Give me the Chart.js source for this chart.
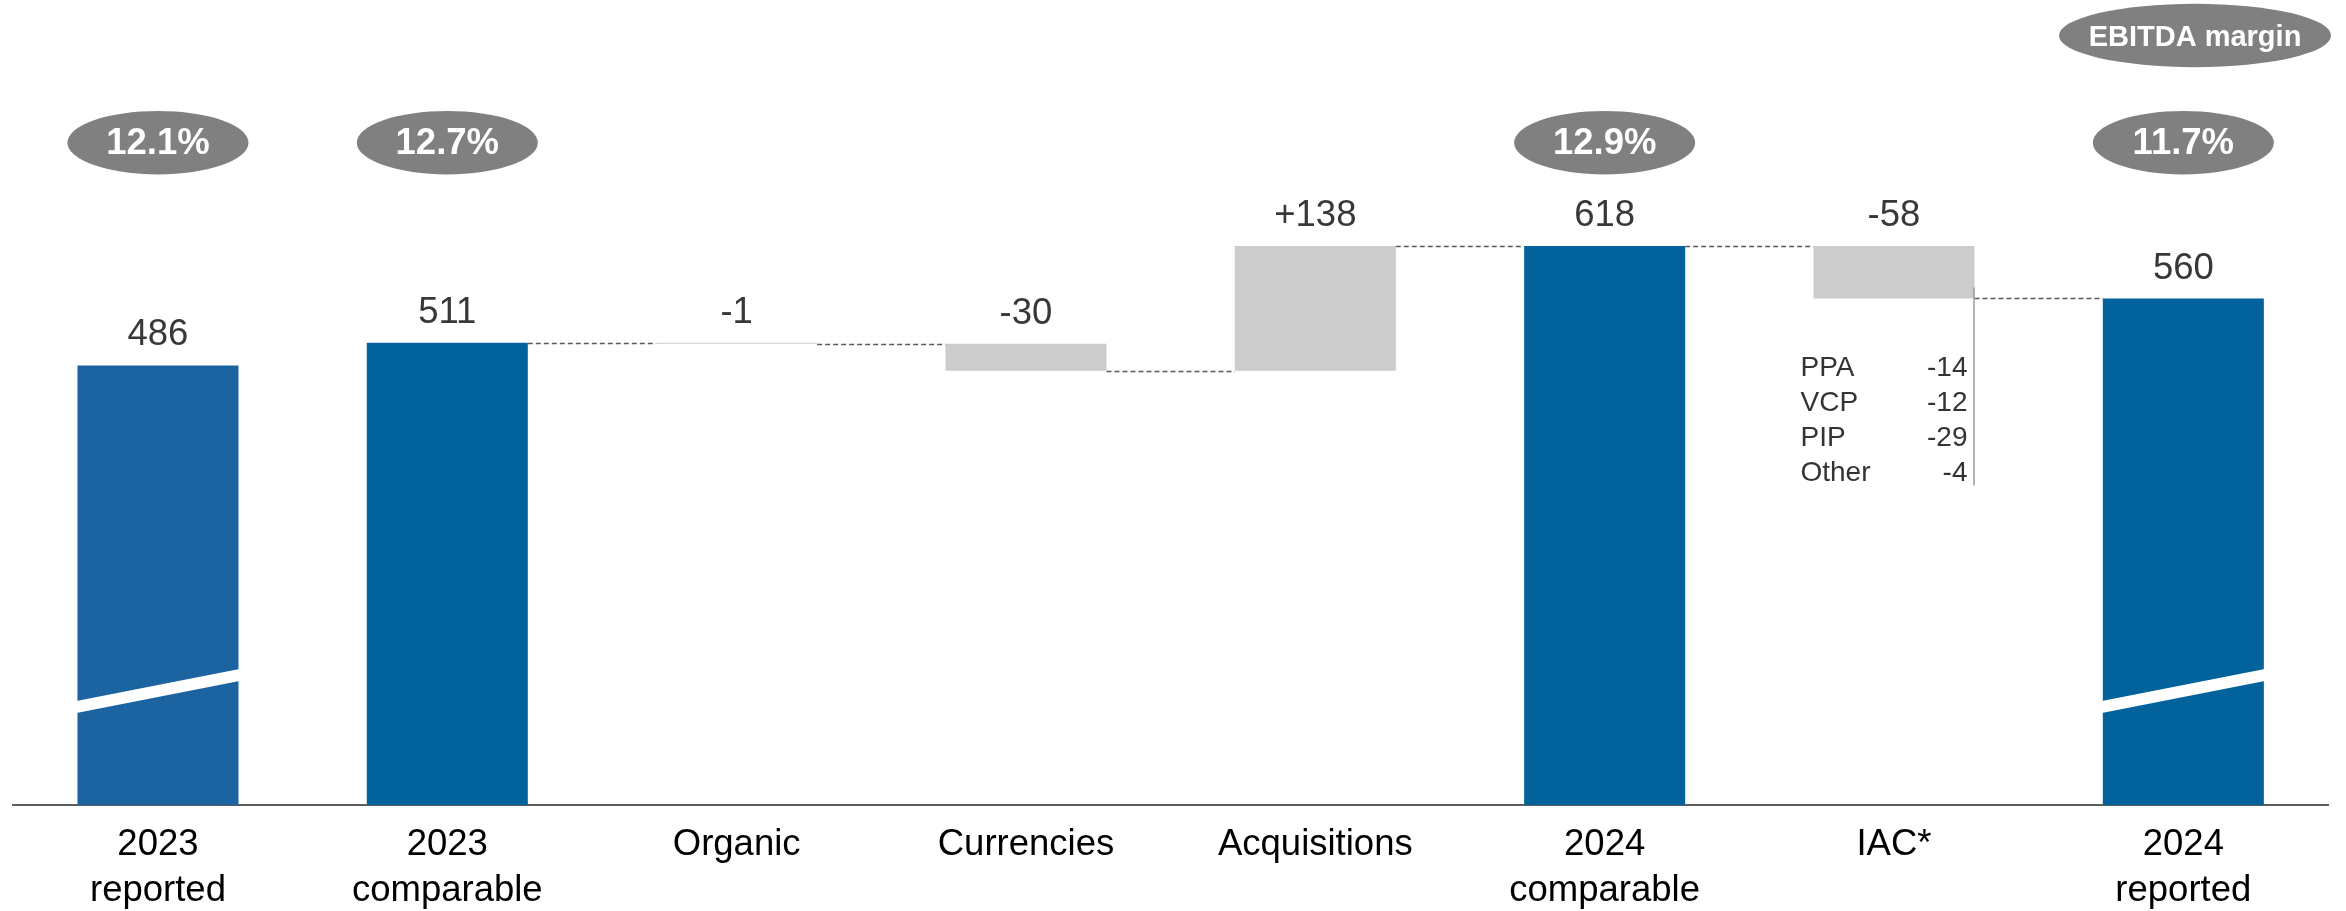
<!DOCTYPE html>
<html>
<head>
<meta charset="utf-8">
<script src="https://cdn.jsdelivr.net/npm/chart.js@4.4.1/dist/chart.umd.min.js"></script>
<style>
  html, body { margin: 0; padding: 0; background: #ffffff; }
  #wrap { width: 2346px; height: 911px; }
</style>
</head>
<body>
<div id="wrap"><canvas id="c" width="2346" height="911"></canvas></div>
<script>
// ---- data ----
const categories = [['2023', 'reported'], ['2023', 'comparable'], 'Organic', 'Currencies', 'Acquisitions', ['2024', 'comparable'], 'IAC*', ['2024', 'reported']];
const amounts = [486, 511, -1, -30, 138, 618, -58, 560];
const isTotal = [true, true, false, false, false, true, false, true];
const margins = ['12.1%', '12.7%', null, null, null, '12.9%', null, '11.7%'];
const marginLegend = 'EBITDA margin';
const iacItems = ['PPA', 'VCP', 'PIP', 'Other'];
const iacValues = [-14, -12, -29, -4];
const brokenBars = [true, false, false, false, false, false, false, true];

// ---- styles ----
const FONT = '"Liberation Sans", Arial, Helvetica, sans-serif';
const barColors = ['#1C64A1', '#02629B', '#CCCCCC', '#CCCCCC', '#CCCCCC', '#02629B', '#CCCCCC', '#02629B'];

// floating bars built from the running total
const floating = [];
const levels = [];
let running = 0;
amounts.forEach((v, i) => {
  if (isTotal[i]) { floating.push([0, v]); running = v; }
  else { floating.push([running, running + v]); running = running + v; }
  levels.push(running);
});
const valueText = amounts.map((v, i) => (!isTotal[i] && v > 0 ? '+' + v : String(v)));

const overlay = {
  id: 'overlay',
  afterDatasetsDraw(chart) {
    const ctx = chart.ctx;
    const meta = chart.getDatasetMeta(0);
    const ys = chart.scales.y;
    const bars = meta.data.map(el => {
      const p = el.getProps(['x', 'y', 'base', 'width'], true);
      return { x: p.x, w: p.width, left: p.x - p.width / 2, right: p.x + p.width / 2, top: Math.min(p.y, p.base), bottom: Math.max(p.y, p.base) };
    });
    ctx.save();

    // break marks on the long total bars
    bars.forEach((b, i) => {
      if (!brokenBars[i]) return;
      const yl = chart.chartArea.bottom - 104, yr = chart.chartArea.bottom - 136, t = 12;
      ctx.fillStyle = '#ffffff';
      ctx.beginPath();
      ctx.moveTo(b.left - 1, yl);
      ctx.lineTo(b.right + 1, yr);
      ctx.lineTo(b.right + 1, yr + t);
      ctx.lineTo(b.left - 1, yl + t);
      ctx.closePath();
      ctx.fill();
    });

    // dashed connectors
    ctx.strokeStyle = '#5a5a5a';
    ctx.lineWidth = 1.5;
    ctx.setLineDash([5, 3]);
    for (let i = 1; i < bars.length - 1; i++) {
      const y = Math.round(ys.getPixelForValue(levels[i])) + 0.5;
      ctx.beginPath();
      ctx.moveTo(bars[i].right, y);
      ctx.lineTo(bars[i + 1].left, y);
      ctx.stroke();
    }
    ctx.setLineDash([]);

    // value labels
    ctx.fillStyle = '#383838';
    ctx.font = '36.5px ' + FONT;
    ctx.textAlign = 'center';
    ctx.textBaseline = 'middle';
    bars.forEach((b, i) => {
      ctx.fillText(valueText[i], b.x, b.top - 30);
    });

    // margin bubbles
    bars.forEach((b, i) => {
      if (!margins[i]) return;
      ctx.fillStyle = '#808080';
      ctx.beginPath();
      ctx.ellipse(b.x, 142.7, 90.5, 31.7, 0, 0, Math.PI * 2);
      ctx.fill();
      ctx.fillStyle = '#ffffff';
      ctx.font = 'bold 36.5px ' + FONT;
      ctx.fillText(margins[i], b.x, 144);
    });
    // legend bubble
    ctx.fillStyle = '#808080';
    ctx.beginPath();
    ctx.ellipse(2195, 35.5, 136, 31.7, 0, 0, Math.PI * 2);
    ctx.fill();
    ctx.fillStyle = '#ffffff';
    ctx.font = 'bold 29px ' + FONT;
    ctx.fillText(marginLegend, 2195, 38);

    // IAC breakdown
    const iac = bars[6];
    ctx.strokeStyle = '#9a9a9a';
    ctx.lineWidth = 1.5;
    ctx.beginPath();
    ctx.moveTo(iac.right - 0.5, iac.bottom - 11);
    ctx.lineTo(iac.right - 0.5, iac.bottom + 187);
    ctx.stroke();
    ctx.fillStyle = '#333333';
    ctx.font = '28px ' + FONT;
    iacItems.forEach((name, k) => {
      const y = iac.bottom + 70 + k * 35;
      ctx.textAlign = 'left';
      ctx.fillText(name, iac.left - 13, y);
      ctx.textAlign = 'right';
      ctx.fillText(String(iacValues[k]), iac.right - 7, y);
    });
    ctx.restore();
  }
};

new Chart(document.getElementById('c'), {
  type: 'bar',
  data: {
    labels: categories,
    datasets: [{
      data: floating,
      backgroundColor: barColors,
      borderWidth: 0,
      barPercentage: 0.5565,
      categoryPercentage: 1.0
    }]
  },
  options: {
    responsive: false,
    animation: false,
    layout: { padding: { left: 13.3, right: 18, top: 81.4, bottom: 0 } },
    plugins: { legend: { display: false }, tooltip: { enabled: false } },
    scales: {
      x: {
        grid: { display: false, drawTicks: false },
        border: { display: true, color: '#5e5e5e', width: 2 },
        ticks: {
          color: '#000000',
          font: { family: FONT, size: 36.5, lineHeight: 1.26 },
          padding: 17,
          maxRotation: 0,
          autoSkip: false
        },
        afterFit(s) { s.height = 106; }
      },
      y: { display: false, min: 0, max: 800 }
    }
  },
  plugins: [overlay]
});
</script>
</body>
</html>
